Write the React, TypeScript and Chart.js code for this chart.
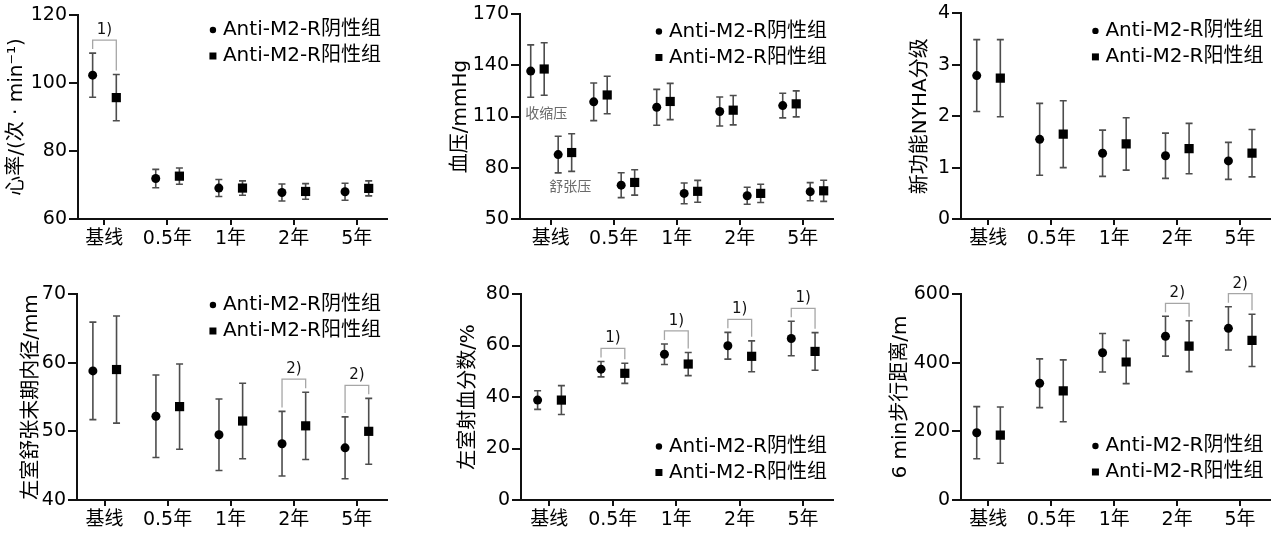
import React, { useEffect, useRef } from "react";
import { Chart, registerables } from "chart.js";

Chart.register(...registerables);

const FONT = '"DejaVu Sans", "Noto Sans CJK SC", sans-serif';
const CJK_FONT = '"Noto Sans CJK SC", sans-serif';

const CATEGORIES = ["基线", "0.5年", "1年", "2年", "5年"];
const LEGEND_NEG = "Anti-M2-R阴性组";
const LEGEND_POS = "Anti-M2-R阳性组";

// 心率
const HR_NEG = [102.3, 71.9, 69.1, 67.8, 68.0];
const HR_NEG_SD = [6.5, 2.7, 2.5, 2.5, 2.5];
const HR_POS = [95.7, 72.6, 69.1, 68.1, 69.0];
const HR_POS_SD = [6.8, 2.4, 2.1, 2.3, 2.2];
const HR_SIG = [{ cat: 0, label: "1)" }];

// 血压
const SBP_NEG = [136.6, 118.6, 115.4, 112.9, 116.4];
const SBP_NEG_SD = [15.3, 11.0, 10.5, 8.5, 7.2];
const SBP_POS = [137.8, 122.6, 118.8, 113.7, 117.4];
const SBP_POS_SD = [15.4, 11.0, 10.6, 8.6, 7.6];
const DBP_NEG = [87.7, 69.8, 65.0, 63.6, 66.0];
const DBP_NEG_SD = [10.7, 7.3, 6.1, 5.0, 5.3];
const DBP_POS = [88.9, 71.4, 66.2, 65.0, 66.5];
const DBP_POS_SD = [11.0, 7.4, 6.4, 5.3, 6.2];
const BP_NOTES = [
  { text: "收缩压", x: -0.07, y: 112.2 },
  { text: "舒张压", x: 0.31, y: 69.4 },
];

// NYHA
const NYHA_NEG = [2.79, 1.55, 1.28, 1.23, 1.13];
const NYHA_NEG_SD = [0.7, 0.7, 0.45, 0.44, 0.36];
const NYHA_POS = [2.74, 1.65, 1.46, 1.37, 1.28];
const NYHA_POS_SD = [0.75, 0.65, 0.51, 0.49, 0.46];

// 左室舒张末期内径
const LVEDD_NEG = [58.8, 52.2, 49.5, 48.2, 47.6];
const LVEDD_NEG_SD = [7.1, 6.0, 5.2, 4.7, 4.5];
const LVEDD_POS = [59.0, 53.6, 51.5, 50.8, 50.0];
const LVEDD_POS_SD = [7.8, 6.2, 5.5, 4.9, 4.8];
const LVEDD_SIG = [
  { cat: 3, label: "2)" },
  { cat: 4, label: "2)" },
];

// 左室射血分数
const LVEF_NEG = [38.8, 50.8, 56.6, 59.9, 62.7];
const LVEF_NEG_SD = [3.6, 3.0, 4.0, 5.2, 6.7];
const LVEF_POS = [38.8, 49.2, 52.8, 55.8, 57.7];
const LVEF_POS_SD = [5.6, 3.9, 4.5, 6.0, 7.3];
const LVEF_SIG = [
  { cat: 1, label: "1)" },
  { cat: 2, label: "1)" },
  { cat: 3, label: "1)" },
  { cat: 4, label: "1)" },
];

// 6 min 步行距离
const WALK_NEG = [196, 340, 429, 477, 500];
const WALK_NEG_SD = [76, 71, 56, 58, 63];
const WALK_POS = [189, 318, 402, 448, 465];
const WALK_POS_SD = [82, 90, 63, 74, 76];
const WALK_SIG = [
  { cat: 3, label: "2)" },
  { cat: 4, label: "2)" },
];

type Series = { mean: number[]; sd: number[]; shape: "circle" | "rect"; offset: number };
type PanelCfg = {
  box: { x: number; y: number; w: number; h: number };
  pad: { left: number; right: number; top: number; bottom: number };
  yWidth: number;
  xHeight: number;
  xMin: number;
  xMax: number;
  yMin: number;
  yMax: number;
  yStep: number;
  title: string;
  series: Series[];
  sig: { cat: number; label: string }[];
  legend: { anchor: "top" | "bottom"; offset: number };
  notes?: { text: string; x: number; y: number }[];
};

const two = (neg: number[], negSd: number[], pos: number[], posSd: number[]): Series[] => [
  { mean: neg, sd: negSd, shape: "circle", offset: -0.185 },
  { mean: pos, sd: posSd, shape: "rect", offset: 0.19 },
];

const PANELS: PanelCfg[] = [
  {
    box: { x: 0, y: 0, w: 420, h: 270 },
    pad: { left: 5, right: 33, top: 15, bottom: 11 },
    yWidth: 73,
    xHeight: 40,
    xMin: -0.417,
    xMax: 4.48,
    yMin: 60,
    yMax: 120,
    yStep: 20,
    title: "心率/(次 · min⁻¹)",
    series: two(HR_NEG, HR_NEG_SD, HR_POS, HR_POS_SD),
    sig: HR_SIG,
    legend: { anchor: "top", offset: 15 },
  },
  {
    box: { x: 420, y: 0, w: 440, h: 270 },
    pad: { left: 29, right: 27, top: 14, bottom: 11 },
    yWidth: 71,
    xHeight: 40,
    xMin: -0.487,
    xMax: 4.481,
    yMin: 50,
    yMax: 170,
    yStep: 30,
    title: "血压/mmHg",
    series: [
      { mean: SBP_NEG, sd: SBP_NEG_SD, shape: "circle", offset: -0.317 },
      { mean: SBP_POS, sd: SBP_POS_SD, shape: "rect", offset: -0.103 },
      { mean: DBP_NEG, sd: DBP_NEG_SD, shape: "circle", offset: 0.119 },
      { mean: DBP_POS, sd: DBP_POS_SD, shape: "rect", offset: 0.333 },
    ],
    sig: [],
    legend: { anchor: "top", offset: 17.5 },
    notes: BP_NOTES,
  },
  {
    box: { x: 860, y: 0, w: 416, h: 270 },
    pad: { left: 49, right: 4, top: 13, bottom: 11 },
    yWidth: 52,
    xHeight: 40,
    xMin: -0.435,
    xMax: 4.468,
    yMin: 0,
    yMax: 4,
    yStep: 1,
    title: "新功能NYHA分级",
    series: two(NYHA_NEG, NYHA_NEG_SD, NYHA_POS, NYHA_POS_SD),
    sig: [],
    legend: { anchor: "top", offset: 17.5 },
  },
  {
    box: { x: 0, y: 270, w: 420, h: 269 },
    pad: { left: 20, right: 33, top: 24, bottom: 0 },
    yWidth: 57,
    xHeight: 39,
    xMin: -0.437,
    xMax: 4.48,
    yMin: 40,
    yMax: 70,
    yStep: 10,
    title: "左室舒张末期内径/mm",
    series: two(LVEDD_NEG, LVEDD_NEG_SD, LVEDD_POS, LVEDD_POS_SD),
    sig: LVEDD_SIG,
    legend: { anchor: "top", offset: 11 },
  },
  {
    box: { x: 420, y: 270, w: 440, h: 269 },
    pad: { left: 37, right: 27, top: 24, bottom: 0 },
    yWidth: 64,
    xHeight: 39,
    xMin: -0.447,
    xMax: 4.473,
    yMin: 0,
    yMax: 80,
    yStep: 20,
    title: "左室射血分数/%",
    series: two(LVEF_NEG, LVEF_NEG_SD, LVEF_POS, LVEF_POS_SD),
    sig: LVEF_SIG,
    legend: { anchor: "bottom", offset: -53.5 },
  },
  {
    box: { x: 860, y: 270, w: 416, h: 269 },
    pad: { left: 29, right: 4, top: 24, bottom: 0 },
    yWidth: 72,
    xHeight: 39,
    xMin: -0.435,
    xMax: 4.468,
    yMin: 0,
    yMax: 600,
    yStep: 200,
    title: "6 min步行距离/m",
    series: two(WALK_NEG, WALK_NEG_SD, WALK_POS, WALK_POS_SD),
    sig: WALK_SIG,
    legend: { anchor: "bottom", offset: -54 },
  },
];

function buildConfig(cfg: PanelCfg): any {
  const datasets = cfg.series.map((s) => ({
    data: s.mean.map((v, i) => ({ x: i + s.offset, y: v })),
    pointStyle: s.shape,
    pointRadius: s.shape === "circle" ? 4.5 : 6.5,
    pointHoverRadius: s.shape === "circle" ? 4.5 : 6.5,
    backgroundColor: "#000",
    borderColor: "#000",
    borderWidth: 0,
    showLine: false,
  }));

  const decor = {
    id: "decor",
    beforeDatasetsDraw(chart: any) {
      const { ctx } = chart;
      const xs = chart.scales.x;
      const ys = chart.scales.y;
      ctx.save();
      ctx.strokeStyle = "#4d4d4d";
      ctx.lineWidth = 1.6;
      cfg.series.forEach((s) => {
        s.mean.forEach((m, i) => {
          const px = xs.getPixelForValue(i + s.offset);
          const top = ys.getPixelForValue(m + s.sd[i]);
          const bot = ys.getPixelForValue(m - s.sd[i]);
          ctx.beginPath();
          ctx.moveTo(px, top);
          ctx.lineTo(px, bot);
          ctx.moveTo(px - 3.5, top);
          ctx.lineTo(px + 3.5, top);
          ctx.moveTo(px - 3.5, bot);
          ctx.lineTo(px + 3.5, bot);
          ctx.stroke();
        });
      });
      ctx.restore();
    },
    afterDatasetsDraw(chart: any) {
      const { ctx, chartArea } = chart;
      const xs = chart.scales.x;
      const ys = chart.scales.y;
      ctx.save();
      // significance brackets
      cfg.sig.forEach((g) => {
        const a = cfg.series[0];
        const b = cfg.series[1];
        const xa = xs.getPixelForValue(g.cat + a.offset);
        const xb = xs.getPixelForValue(g.cat + b.offset);
        const ua = ys.getPixelForValue(a.mean[g.cat] + a.sd[g.cat]);
        const ub = ys.getPixelForValue(b.mean[g.cat] + b.sd[g.cat]);
        const top = Math.min(ua, ub) - 13;
        ctx.strokeStyle = "#a6a6a6";
        ctx.lineWidth = 1.3;
        ctx.beginPath();
        ctx.moveTo(xa, ua - 4);
        ctx.lineTo(xa, top);
        ctx.lineTo(xb, top);
        ctx.lineTo(xb, ub - 4);
        ctx.stroke();
        ctx.fillStyle = "#111";
        ctx.font = `15px ${FONT}`;
        ctx.textAlign = "center";
        ctx.textBaseline = "middle";
        ctx.fillText(g.label, (xa + xb) / 2, top - 10);
      });
      // notes
      (cfg.notes || []).forEach((n) => {
        ctx.fillStyle = "#6a6a6a";
        ctx.font = `14px ${CJK_FONT}`;
        ctx.textAlign = "center";
        ctx.textBaseline = "middle";
        ctx.fillText(n.text, xs.getPixelForValue(n.x), ys.getPixelForValue(n.y));
      });
      // legend
      const base = cfg.legend.anchor === "top" ? chartArea.top : chartArea.bottom;
      const rows = [
        { text: LEGEND_NEG, shape: "circle" },
        { text: LEGEND_POS, shape: "rect" },
      ];
      ctx.font = `20px ${FONT}`;
      ctx.textAlign = "left";
      ctx.textBaseline = "middle";
      ctx.fillStyle = "#000";
      rows.forEach((r, k) => {
        const y = base + cfg.legend.offset + k * 26;
        const w = ctx.measureText(r.text).width;
        const tx = chartArea.right - 6 - w;
        ctx.fillText(r.text, tx, y);
        const mx = tx - 10;
        ctx.beginPath();
        if (r.shape === "circle") {
          ctx.arc(mx, y, 3.2, 0, Math.PI * 2);
        } else {
          ctx.rect(mx - 3.5, y - 3.5, 7, 7);
        }
        ctx.fill();
      });
      ctx.restore();
    },
  };

  return {
    type: "scatter",
    data: { datasets },
    options: {
      animation: false,
      responsive: false,
      events: [],
      layout: { padding: cfg.pad },
      plugins: { legend: { display: false }, tooltip: { enabled: false } },
      scales: {
        x: {
          type: "linear",
          min: cfg.xMin,
          max: cfg.xMax,
          afterBuildTicks: (s: any) => {
            s.ticks = CATEGORIES.map((_, i) => ({ value: i }));
          },
          afterFit: (s: any) => {
            s.height = cfg.xHeight;
          },
          ticks: {
            callback: (v: any) => CATEGORIES[Math.round(Number(v))] ?? "",
            font: { size: 19, family: FONT },
            color: "#000",
            padding: 3,
            autoSkip: false,
            maxRotation: 0,
          },
          grid: { drawOnChartArea: false, drawTicks: true, tickLength: 6, lineWidth: 2, color: "#111" },
          border: { display: true, color: "#111", width: 2 },
        },
        y: {
          type: "linear",
          min: cfg.yMin,
          max: cfg.yMax,
          afterFit: (s: any) => {
            s.width = cfg.yWidth;
          },
          ticks: {
            stepSize: cfg.yStep,
            font: { size: 19, family: FONT },
            color: "#000",
            padding: 2,
          },
          grid: { drawOnChartArea: false, drawTicks: true, tickLength: 9, lineWidth: 2, color: "#111" },
          border: { display: true, color: "#111", width: 2 },
          title: {
            display: true,
            text: cfg.title,
            font: { size: 20, family: FONT },
            color: "#000",
            padding: { top: 0, bottom: 0 },
          },
        },
      },
    },
    plugins: [decor],
  };
}

function Panel({ cfg }: { cfg: PanelCfg }) {
  const ref = useRef<HTMLCanvasElement>(null);
  useEffect(() => {
    const chart = new Chart(ref.current as HTMLCanvasElement, buildConfig(cfg));
    return () => chart.destroy();
  }, [cfg]);
  return (
    <canvas
      ref={ref}
      width={cfg.box.w}
      height={cfg.box.h}
      style={{ position: "absolute", left: cfg.box.x, top: cfg.box.y, width: cfg.box.w, height: cfg.box.h }}
    />
  );
}

export default function App() {
  return (
    <div style={{ position: "absolute", left: 0, top: 0, width: 1276, height: 539, background: "#fff", overflow: "hidden" }}>
      {PANELS.map((p, i) => (
        <Panel key={i} cfg={p} />
      ))}
    </div>
  );
}
